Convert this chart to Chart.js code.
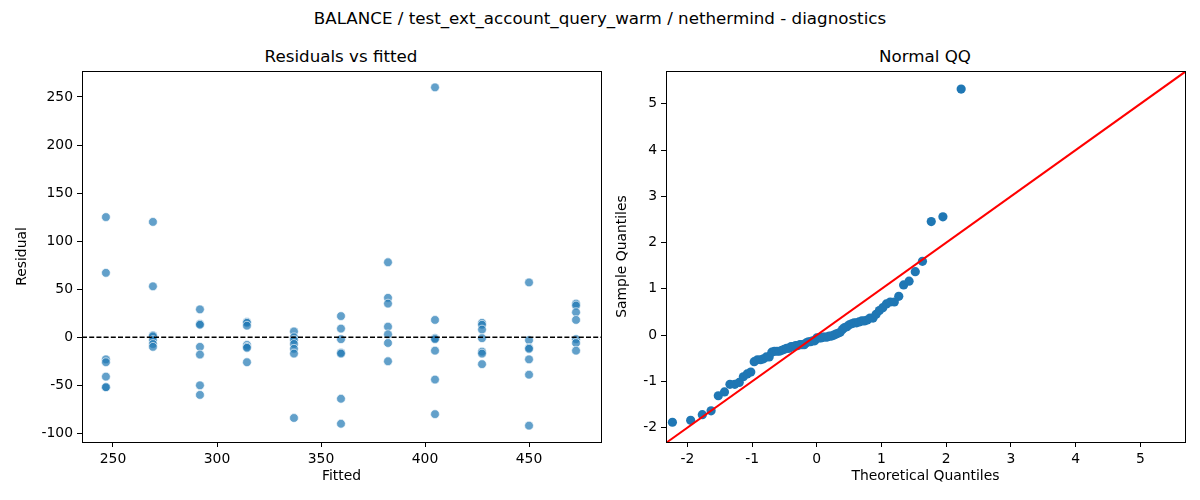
<!DOCTYPE html>
<html>
<head>
<meta charset="utf-8">
<script src="https://cdn.jsdelivr.net/npm/chart.js@4.4.1/dist/chart.umd.min.js"></script>
<style>
  body { margin: 0; background: #fff; font-family: "DejaVu Sans", sans-serif; }
  #wrap { position: relative; width: 1200px; height: 500px; overflow: hidden; }
  .ttl { position: absolute; color: #000; font-size: 16.7px; white-space: nowrap; transform: translate(-50%, -50%); }
  canvas { position: absolute; top: 0; }
</style>
</head>
<body>
<div id="wrap">
  <div class="ttl" style="left:600px; top:18px;">BALANCE / test_ext_account_query_warm / nethermind - diagnostics</div>
  <div class="ttl" style="left:341px; top:56px;">Residuals vs fitted</div>
  <div class="ttl" style="left:925px; top:56px;">Normal QQ</div>
  <canvas id="resid" width="610" height="500" style="left:0px;"></canvas>
  <canvas id="qq" width="600" height="500" style="left:600px;"></canvas>
</div>
<script>
// fitted value levels and the residuals observed at each level
var fittedLevels = [246.6, 269.2, 291.8, 314.4, 337.0, 359.6, 382.2, 404.8, 427.4, 450.0, 472.6];
var residualsByLevel = [
    [125, 67, -23, -26, -41, -52, -52],
    [120, 53, 2, 1, -3, -7, -10],
    [29, 14, 13, -10, -18, -50, -60],
    [16, 15, 12, -8, -10, -11, -26],
    [6, 0, -3, -7, -12, -17, -84],
    [22, 9, -2, -16, -17, -64, -90],
    [78, 41, 35, 11, 3, -6, -25],
    [260, 18, -1, -2, -14, -44, -80],
    [15, 13, 8, -1, -15, -17, -28],
    [57, -3, -11, -12, -23, -39, -92],
    [35, 33, 26, 18, -2, -6, -14],
];

// normal QQ points
var qqTheoretical = [
    -2.231, -1.949, -1.769, -1.633, -1.522, -1.426, -1.342, -1.267, -1.198, -1.135,
    -1.076, -1.020, -0.967, -0.917, -0.869, -0.823, -0.779, -0.736, -0.695, -0.654,
    -0.615, -0.577, -0.539, -0.502, -0.466, -0.431, -0.396, -0.361, -0.327, -0.293,
    -0.260, -0.227, -0.194, -0.161, -0.129, -0.097, -0.064, -0.032, 0, 0.032,
    0.064, 0.097, 0.129, 0.161, 0.194, 0.227, 0.260, 0.293, 0.327, 0.361,
    0.396, 0.431, 0.466, 0.502, 0.539, 0.577, 0.615, 0.654, 0.695, 0.736,
    0.779, 0.823, 0.869, 0.917, 0.967, 1.020, 1.076, 1.135, 1.198, 1.267,
    1.342, 1.426, 1.522, 1.633, 1.769, 1.949, 2.231,
];
var qqSample = [
    -1.883, -1.842, -1.719, -1.637, -1.310, -1.228, -1.064, -1.064, -1.023, -0.900,
    -0.839, -0.798, -0.573, -0.532, -0.532, -0.512, -0.471, -0.471, -0.368, -0.348,
    -0.348, -0.348, -0.327, -0.307, -0.286, -0.286, -0.246, -0.246, -0.225, -0.225,
    -0.205, -0.205, -0.205, -0.164, -0.143, -0.143, -0.123, -0.123, -0.061, -0.061,
    -0.061, -0.041, -0.041, -0.041, -0.020, -0.020, 0, 0.020, 0.041, 0.061,
    0.123, 0.164, 0.184, 0.225, 0.246, 0.266, 0.266, 0.286, 0.307, 0.307,
    0.327, 0.368, 0.368, 0.450, 0.532, 0.593, 0.675, 0.716, 0.716, 0.839,
    1.085, 1.166, 1.371, 1.596, 2.456, 2.558, 5.320,
];

// tick labels
var residXTicks = [250, 300, 350, 400, 450];
var residYTicks = [-100, -50, 0, 50, 100, 150, 200, 250];
var qqTicks = [-2, -1, 0, 1, 2, 3, 4, 5];

var residXRange = [235.1, 484.6],
    residYRange = [-109, 277],
    qqXRange = [-2.33, 5.69],
    qqYRange = [-2.31, 5.71];

var residPoints = [];
fittedLevels.forEach(function (f, i) {
    residualsByLevel[i].forEach(function (r) {
        residPoints.push({ x: f, y: r });
    });
});
var qqPoints = qqTheoretical.map(function (t, i) {
    return { x: t, y: qqSample[i] };
});

var FONT = "'DejaVu Sans', sans-serif";

// closes the axes box (top and right spines)
var frame = {
    id: "frame",
    afterDraw: function (chart) {
        var a = chart.chartArea, c = chart.ctx;
        c.save();
        c.strokeStyle = "#000";
        c.lineWidth = 1;
        c.strokeRect(Math.round(a.left) + 0.5, Math.round(a.top) + 0.5,
            Math.round(a.right - a.left), Math.round(a.bottom - a.top));
        c.restore();
    },
};

function axis(range, ticks, size, title, titlePad, horizontal) {
    return {
        type: "linear",
        min: range[0],
        max: range[1],
        afterBuildTicks: function (s) {
            s.ticks = ticks.map(function (v) { return { value: v }; });
        },
        afterFit: function (s) {
            if (horizontal) s.height = size; else s.width = size;
        },
        ticks: {
            color: "#000",
            font: { family: FONT, size: 13.9 },
            padding: 4,
            maxRotation: 0,
            autoSkip: false,
        },
        grid: {
            drawOnChartArea: !1,
            drawTicks: !0,
            tickLength: 5,
            color: "#000",
        },
        border: { display: !0, color: "#000", width: 1 },
        title: {
            display: !0,
            text: title,
            color: "#000",
            font: { family: FONT, size: 13.9 },
            padding: titlePad,
        },
    };
}

var common = {
    responsive: !1,
    animation: !1,
    events: [],
    devicePixelRatio: 1,
    plugins: { legend: { display: !1 }, tooltip: { enabled: !1 } },
};

new Chart(document.getElementById("resid").getContext("2d"), {
    type: "scatter",
    data: {
        datasets: [
            {
                type: "line",
                data: [{ x: residXRange[0], y: 0 }, { x: residXRange[1], y: 0 }],
                borderColor: "#000",
                borderWidth: 1.4,
                borderDash: [5, 2.2],
                pointRadius: 0,
                order: 0,
            },
            {
                data: residPoints,
                backgroundColor: "rgba(31, 119, 180, 0.7)",
                borderColor: "rgba(255, 255, 255, 0.8)",
                borderWidth: 0.8,
                pointRadius: 4.4,
                order: 1,
            },
        ],
    },
    options: Object.assign({}, common, {
        layout: { padding: { top: 71, left: 0, right: 9, bottom: 0 } },
        scales: {
            x: axis(residXRange, residXTicks, 58, "Fitted", { top: 0, bottom: 15 }, true),
            y: axis(residYRange, residYTicks, 82, "Residual", { top: 14, bottom: 0 }, false),
        },
    }),
    plugins: [frame],
});

new Chart(document.getElementById("qq").getContext("2d"), {
    type: "scatter",
    data: {
        datasets: [
            {
                type: "line",
                data: [{ x: qqXRange[0], y: qqXRange[0] }, { x: qqXRange[1], y: qqXRange[1] }],
                borderColor: "#ff0000",
                borderWidth: 2,
                pointRadius: 0,
                order: 0,
            },
            {
                data: qqPoints,
                backgroundColor: "#1f77b4",
                borderColor: "#1f77b4",
                borderWidth: 0,
                pointRadius: 4.6,
                order: 1,
            },
        ],
    },
    options: Object.assign({}, common, {
        layout: { padding: { top: 71, left: 0, right: 15, bottom: 0 } },
        scales: {
            x: axis(qqXRange, qqTicks, 58, "Theoretical Quantiles", { top: 0, bottom: 15 }, true),
            y: axis(qqYRange, qqTicks, 66, "Sample Quantiles", { top: 14, bottom: 0 }, false),
        },
    }),
    plugins: [frame],
});
</script>
</body>
</html>
